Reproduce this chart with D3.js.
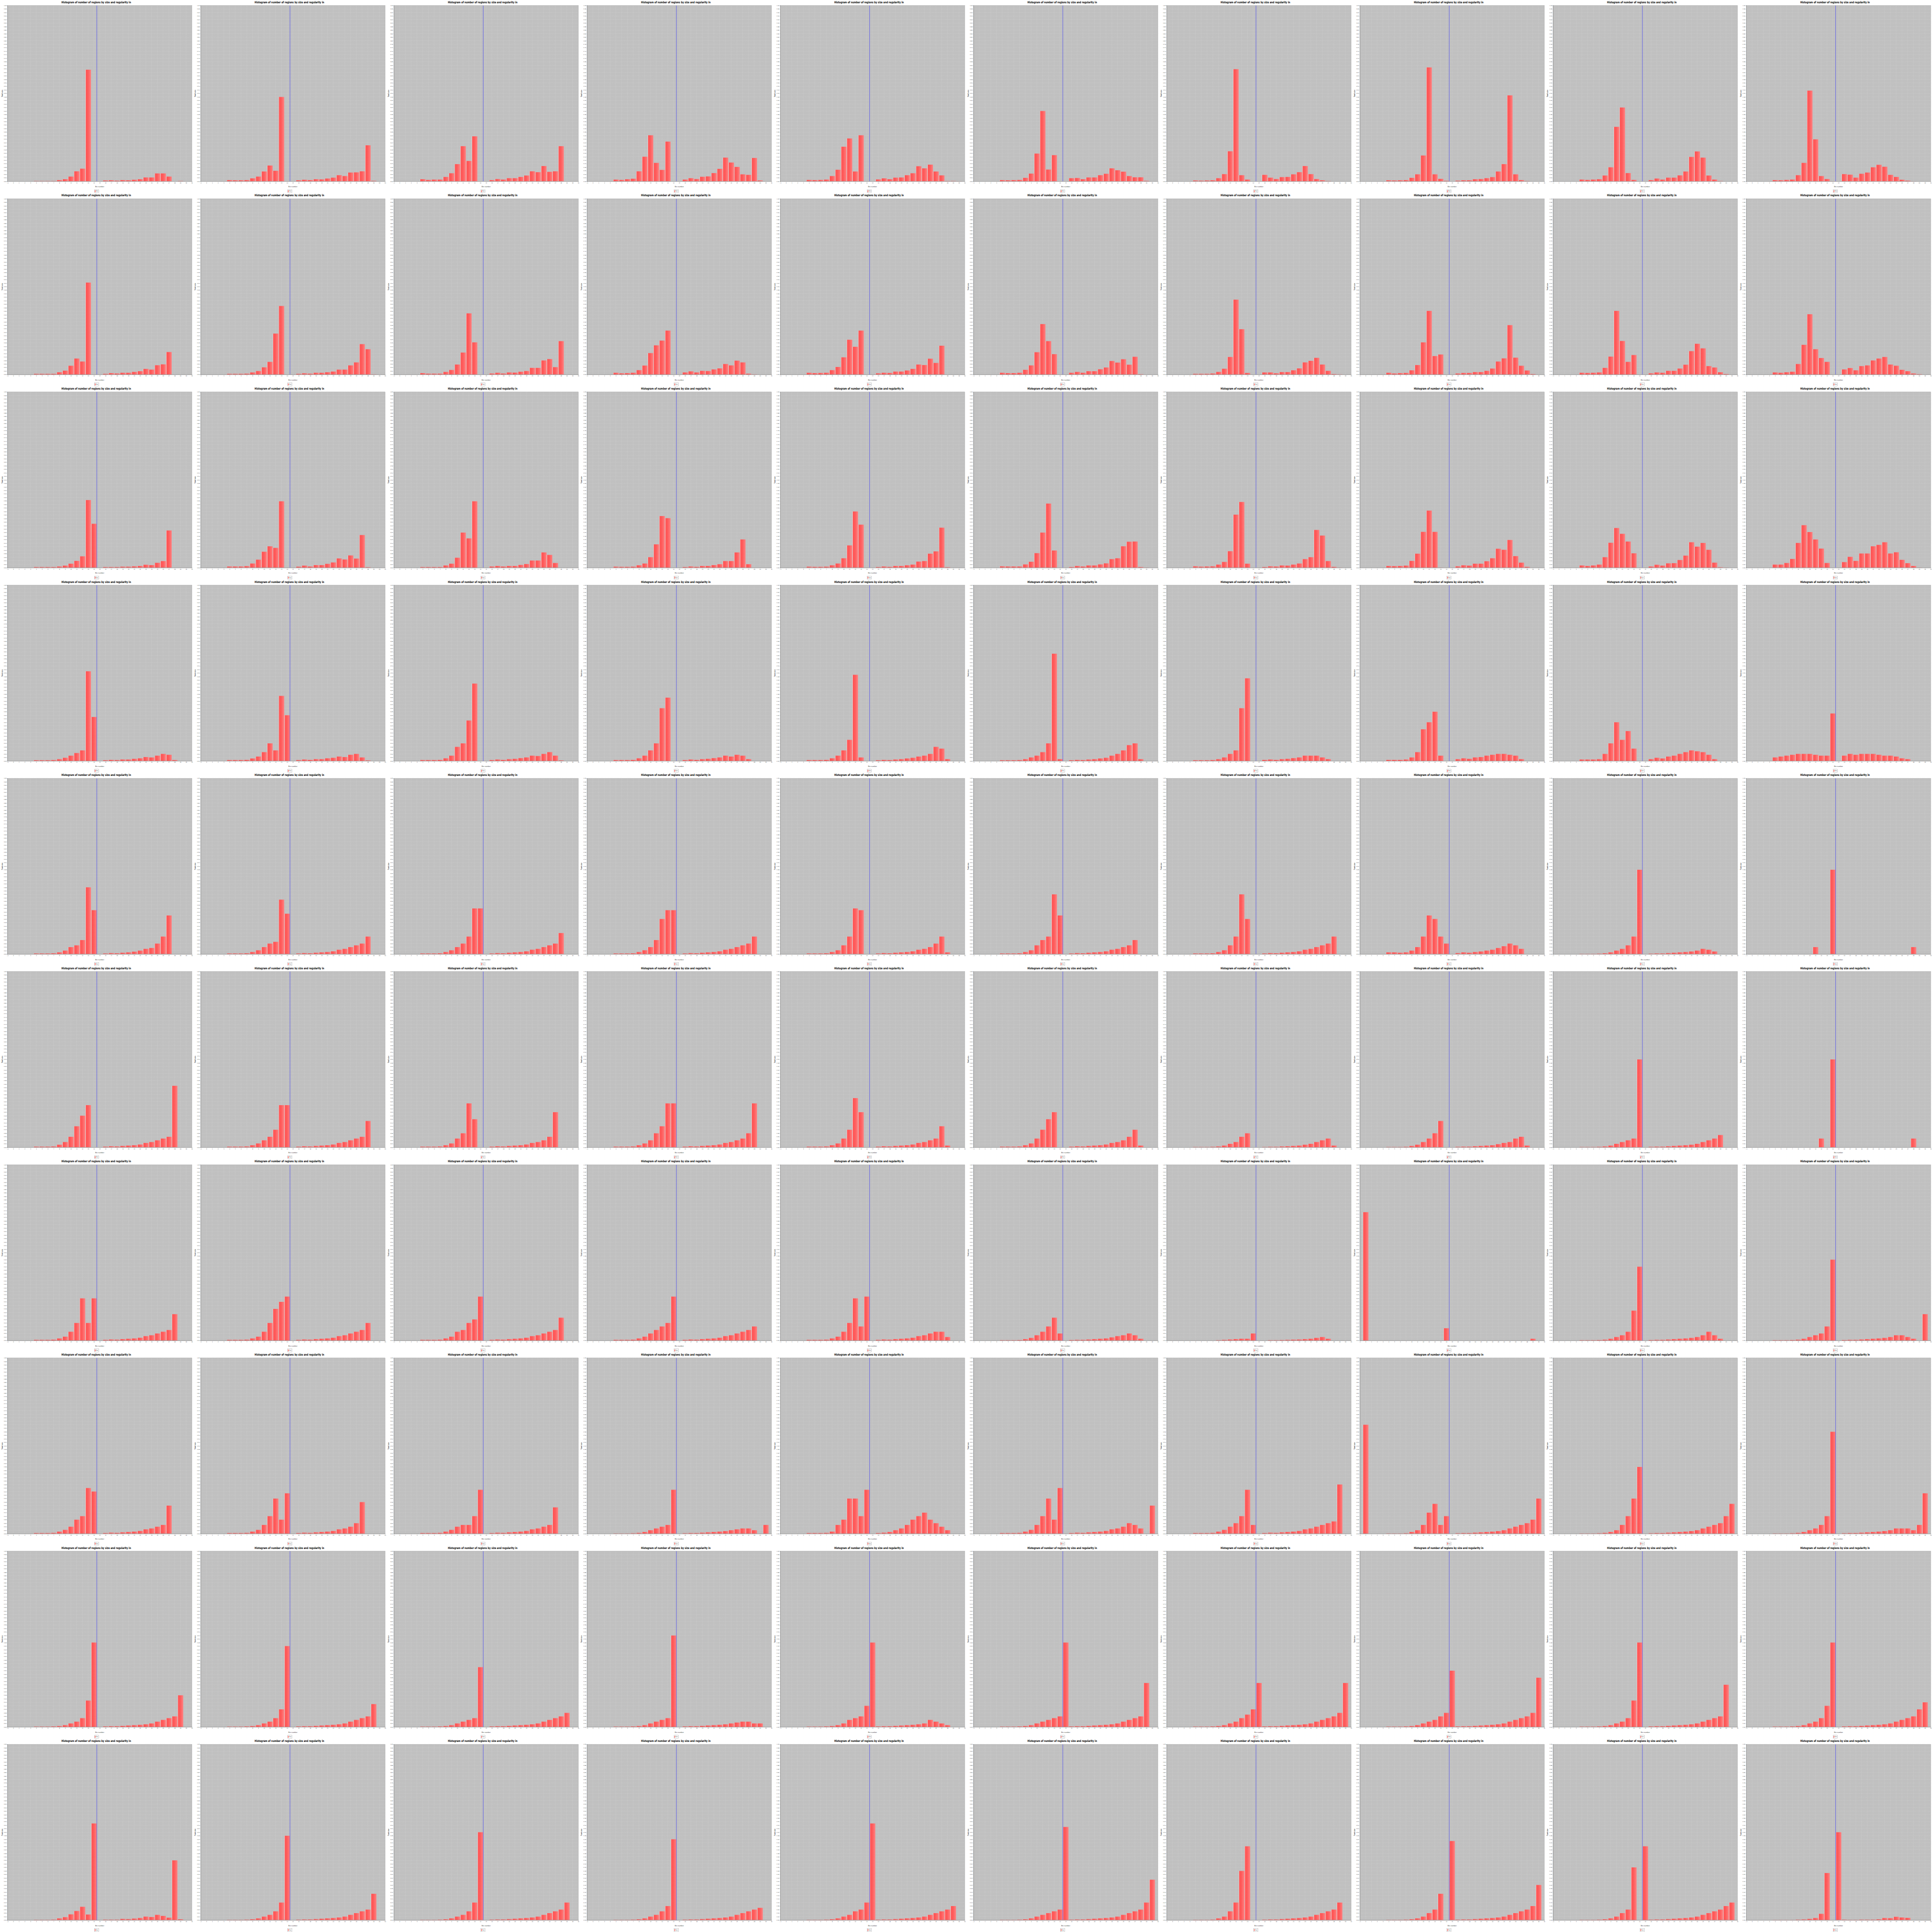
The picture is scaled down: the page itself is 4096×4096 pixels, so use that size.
<!DOCTYPE html>
<html><head><meta charset="utf-8">
<script src="https://cdn.jsdelivr.net/npm/d3@7/dist/d3.min.js"></script>
<style>html,body{margin:0;padding:0;background:#fff}</style>
</head><body>
<script>
// ---------------- data ----------------
const binNumbers = [0,1,2,3,4,5,6,7,8,9,10,11,12,13,14,15,16,17,18,19,20,21,22,23,24,25,26,27,28,29,30];
const xTickValues = [-1,0,1,2,3,4,5,6,7,8,9,10,11,12,13,14,15,16,17,18,19,20,21,22,23,24,25,26,27,28,29,30,31];
const yTickValues = [0,0.02,0.04,0.06,0.08,0.1,0.12,0.14,0.16,0.18,0.2,0.22,0.24,0.26,0.28,0.3,0.32,0.34,0.36,0.38,0.4,0.42,0.44,0.46,0.48,0.5,0.52,0.54,0.56,0.58,0.6,0.62,0.64,0.66,0.68,0.7,0.72,0.74,0.76,0.78,0.8,0.82,0.84,0.86,0.88,0.9,0.92,0.94,0.96,0.98,1.0];
const titleText = "Histogram of number of regions by size and regularity in";
const xAxisTitle = "Bin number";
const yAxisTitle = "Total size";
const legendLabel = "Size";
const thresholdBin = 14.5;

const row1 = [
[0,0,0,0,0.002,0.002,0.002,0.002,0.007,0.012,0.027,0.057,0.072,0.635,0,0,0.005,0.006,0.004,0.007,0.006,0.009,0.012,0.022,0.022,0.045,0.045,0.027,0,0.002,0],
[0,0,0,0,0.007,0.006,0.006,0.007,0.017,0.027,0.056,0.09,0.06,0.48,0,0,0.006,0.009,0.007,0.012,0.011,0.016,0.021,0.035,0.030,0.050,0.051,0.057,0.205,0.003,0],
[0,0,0,0,0.012,0.008,0.01,0.01,0.025,0.046,0.098,0.20,0.116,0.256,0,0,0.007,0.013,0.01,0.018,0.018,0.025,0.033,0.057,0.052,0.087,0.054,0.057,0.20,0,0],
[0,0,0,0,0.010,0.008,0.012,0.015,0.057,0.14,0.262,0.105,0.065,0.226,0,0,0.01,0.018,0.013,0.026,0.028,0.047,0.071,0.135,0.107,0.082,0.04,0.037,0.133,0.005,0],
[0,0,0,0,0.008,0.007,0.008,0.01,0.03,0.066,0.197,0.244,0.056,0.262,0,0,0.011,0.017,0.012,0.021,0.022,0.035,0.046,0.086,0.074,0.095,0.056,0.034,0.002,0.002,0.001],
[0,0,0,0,0.007,0.006,0.007,0.008,0.02,0.044,0.158,0.40,0.067,0.149,0,0,0.018,0.019,0.012,0.022,0.022,0.035,0.043,0.074,0.063,0.055,0.03,0.023,0.023,0.003,0],
[0,0,0,0,0.005,0.004,0.005,0.006,0.018,0.041,0.171,0.638,0.035,0.01,0,0,0.037,0.021,0.013,0.024,0.025,0.04,0.052,0.087,0.041,0.013,0.006,0.002,0,0,0],
[0,0,0,0,0.006,0.005,0.006,0.007,0.02,0.04,0.147,0.648,0.04,0.014,0.003,0,0.004,0.006,0.006,0.012,0.013,0.018,0.024,0.056,0.098,0.489,0.04,0.007,0.002,0,0],
[0,0,0,0,0.01,0.008,0.01,0.012,0.033,0.08,0.31,0.42,0.047,0.008,0,0,0.007,0.016,0.01,0.021,0.021,0.034,0.056,0.139,0.17,0.135,0.033,0.01,0.002,0,0],
[0,0,0,0,0.007,0.006,0.008,0.01,0.035,0.105,0.516,0.239,0.03,0.013,0.001,0,0.041,0.038,0.021,0.043,0.05,0.08,0.094,0.083,0.037,0.025,0.009,0.004,0.001,0,0]
];
const row2 = [
[0,0,0,0,0.004,0.004,0.004,0.004,0.013,0.022,0.05,0.091,0.074,0.523,0,0,0.004,0.008,0.006,0.01,0.01,0.015,0.019,0.032,0.028,0.053,0.058,0.128,0,0,0],
[0,0,0,0,0.004,0.004,0.004,0.005,0.012,0.02,0.041,0.072,0.233,0.39,0,0,0.004,0.007,0.005,0.01,0.01,0.013,0.017,0.028,0.028,0.052,0.069,0.173,0.144,0.001,0],
[0,0,0,0,0.008,0.005,0.005,0.005,0.015,0.026,0.057,0.125,0.348,0.183,0,0,0.006,0.01,0.006,0.012,0.011,0.016,0.02,0.038,0.038,0.08,0.088,0.042,0.19,0,0],
[0,0,0,0,0.01,0.007,0.008,0.01,0.025,0.051,0.122,0.166,0.193,0.25,0,0,0.012,0.018,0.012,0.021,0.02,0.029,0.035,0.06,0.052,0.079,0.069,0.005,0.001,0,0],
[0,0,0,0,0.01,0.008,0.009,0.01,0.025,0.043,0.098,0.198,0.158,0.25,0,0,0.007,0.01,0.009,0.017,0.017,0.023,0.032,0.057,0.054,0.09,0.066,0.164,0,0,0],
[0,0,0,0,0.01,0.008,0.008,0.01,0.027,0.052,0.127,0.287,0.19,0.116,0,0,0.01,0.015,0.01,0.019,0.019,0.03,0.04,0.077,0.068,0.087,0.056,0.101,0.002,0,0],
[0,0,0,0,0.004,0.004,0.004,0.006,0.015,0.033,0.1,0.426,0.258,0.009,0,0,0.012,0.012,0.007,0.014,0.014,0.024,0.035,0.069,0.078,0.095,0.057,0.021,0.003,0.001,0],
[0,0,0,0,0.01,0.006,0.008,0.009,0.024,0.054,0.183,0.362,0.105,0.114,0,0,0.006,0.009,0.009,0.014,0.014,0.021,0.034,0.074,0.092,0.281,0.096,0.05,0.023,0.003,0],
[0,0,0,0,0.01,0.009,0.01,0.012,0.038,0.102,0.362,0.191,0.072,0.111,0,0,0.007,0.012,0.01,0.021,0.021,0.034,0.056,0.133,0.175,0.149,0.048,0.04,0.013,0.003,0],
[0,0,0,0,0.012,0.01,0.013,0.016,0.06,0.169,0.343,0.144,0.094,0.072,0,0,0.029,0.037,0.024,0.048,0.052,0.08,0.091,0.1,0.057,0.05,0.027,0.019,0.006,0.002,0]
];
const row3 = [
[0,0,0,0,0.004,0.004,0.004,0.004,0.007,0.012,0.023,0.039,0.065,0.385,0.25,0,0.004,0.004,0.004,0.006,0.006,0.008,0.01,0.017,0.015,0.028,0.038,0.212,0,0,0],
[0,0,0,0,0.007,0.007,0.007,0.009,0.024,0.046,0.091,0.122,0.113,0.378,0,0,0.006,0.012,0.007,0.015,0.015,0.022,0.03,0.053,0.047,0.07,0.052,0.186,0.003,0,0],
[0,0,0,0,0.004,0.004,0.004,0.004,0.013,0.023,0.057,0.2,0.167,0.378,0,0,0.007,0.01,0.007,0.01,0.01,0.016,0.021,0.041,0.041,0.087,0.073,0.027,0,0,0],
[0,0,0,0,0.006,0.005,0.005,0.006,0.014,0.024,0.06,0.133,0.294,0.282,0,0,0.004,0.007,0.005,0.01,0.01,0.015,0.02,0.038,0.038,0.087,0.161,0.02,0,0,0],
[0,0,0,0,0.006,0.005,0.005,0.006,0.014,0.024,0.054,0.127,0.32,0.245,0,0,0.004,0.007,0.005,0.01,0.01,0.014,0.018,0.035,0.038,0.08,0.093,0.228,0.003,0,0],
[0,0,0,0,0.008,0.007,0.007,0.007,0.019,0.034,0.083,0.2,0.365,0.098,0,0,0.004,0.01,0.007,0.013,0.013,0.019,0.025,0.049,0.054,0.122,0.148,0.149,0.004,0.001,0],
[0,0,0,0,0.008,0.006,0.007,0.008,0.018,0.033,0.094,0.302,0.374,0.023,0,0,0.004,0.008,0.007,0.013,0.012,0.018,0.024,0.049,0.06,0.215,0.183,0.038,0.005,0.001,0],
[0,0,0,0,0.01,0.009,0.01,0.012,0.039,0.08,0.204,0.325,0.204,0.001,0,0,0.008,0.014,0.012,0.023,0.023,0.037,0.054,0.108,0.102,0.158,0.066,0.029,0.005,0,0],
[0,0,0,0,0.013,0.01,0.013,0.018,0.06,0.142,0.226,0.193,0.149,0.082,0,0,0.007,0.017,0.012,0.025,0.026,0.044,0.069,0.145,0.12,0.141,0.102,0.029,0.003,0.001,0],
[0,0,0,0,0.018,0.018,0.027,0.05,0.141,0.242,0.203,0.161,0.109,0.027,0,0,0.032,0.062,0.039,0.081,0.081,0.122,0.13,0.145,0.081,0.088,0.045,0.026,0.01,0.001,0]
];
const row4 = [
[0,0,0,0,0.004,0.004,0.004,0.005,0.01,0.018,0.03,0.045,0.06,0.51,0.25,0,0.004,0.006,0.005,0.008,0.008,0.012,0.015,0.022,0.02,0.03,0.04,0.035,0.005,0,0],
[0,0,0,0,0.005,0.005,0.005,0.006,0.014,0.025,0.05,0.1,0.06,0.37,0.26,0,0.005,0.008,0.006,0.01,0.01,0.015,0.018,0.025,0.022,0.035,0.04,0.02,0.003,0,0],
[0,0,0,0,0.005,0.005,0.005,0.006,0.015,0.03,0.08,0.1,0.23,0.44,0,0,0.005,0.008,0.006,0.01,0.012,0.016,0.02,0.03,0.028,0.04,0.05,0.03,0.003,0,0],
[0,0,0,0,0.005,0.005,0.005,0.006,0.015,0.03,0.06,0.1,0.3,0.36,0,0,0.005,0.008,0.006,0.01,0.012,0.016,0.02,0.03,0.025,0.035,0.03,0.01,0,0,0],
[0,0,0,0,0.005,0.005,0.005,0.006,0.015,0.03,0.06,0.12,0.49,0.02,0,0,0.004,0.006,0.005,0.008,0.01,0.014,0.018,0.025,0.03,0.04,0.08,0.07,0.01,0,0],
[0,0,0,0,0.004,0.004,0.004,0.005,0.01,0.02,0.03,0.05,0.1,0.61,0.01,0,0.004,0.006,0.005,0.008,0.01,0.014,0.018,0.03,0.04,0.06,0.09,0.1,0.01,0,0],
[0,0,0,0,0.004,0.004,0.004,0.005,0.01,0.02,0.04,0.06,0.3,0.47,0,0,0.006,0.008,0.006,0.01,0.012,0.016,0.02,0.03,0.03,0.03,0.02,0.01,0,0,0],
[0,0,0,0,0.006,0.006,0.006,0.008,0.02,0.05,0.18,0.22,0.28,0.03,0,0,0.01,0.015,0.012,0.02,0.022,0.03,0.035,0.04,0.04,0.035,0.03,0.01,0,0,0],
[0,0,0,0,0.008,0.008,0.008,0.01,0.04,0.1,0.22,0.12,0.17,0.07,0,0,0.01,0.018,0.014,0.025,0.03,0.04,0.05,0.06,0.055,0.05,0.035,0.01,0,0,0],
[0,0,0,0,0.02,0.025,0.03,0.035,0.04,0.04,0.04,0.035,0.03,0.03,0.27,0,0.03,0.04,0.035,0.04,0.04,0.04,0.035,0.03,0.03,0.025,0.015,0.01,0,0,0]
];
const row5 = [
[0,0,0,0,0.004,0.004,0.004,0.005,0.01,0.02,0.04,0.05,0.08,0.38,0.25,0,0.004,0.006,0.005,0.008,0.01,0.014,0.02,0.03,0.035,0.06,0.1,0.22,0,0,0],
[0,0,0,0,0.004,0.004,0.004,0.005,0.012,0.022,0.04,0.06,0.07,0.31,0.23,0,0.004,0.006,0.005,0.008,0.01,0.012,0.016,0.025,0.03,0.04,0.05,0.06,0.1,0,0],
[0,0,0,0,0.004,0.004,0.004,0.005,0.012,0.022,0.04,0.06,0.1,0.26,0.26,0,0.004,0.006,0.005,0.008,0.01,0.012,0.016,0.025,0.03,0.04,0.05,0.06,0.12,0,0],
[0,0,0,0,0.004,0.004,0.004,0.005,0.012,0.022,0.04,0.08,0.2,0.25,0.25,0,0.004,0.006,0.005,0.008,0.01,0.012,0.016,0.025,0.03,0.04,0.05,0.06,0.1,0,0],
[0,0,0,0,0.004,0.004,0.004,0.005,0.012,0.022,0.05,0.1,0.26,0.25,0,0,0.004,0.006,0.005,0.008,0.01,0.012,0.016,0.025,0.03,0.04,0.06,0.1,0.01,0,0],
[0,0,0,0,0.004,0.004,0.004,0.005,0.012,0.022,0.05,0.08,0.1,0.34,0.22,0,0.004,0.006,0.005,0.008,0.01,0.012,0.016,0.025,0.03,0.04,0.05,0.08,0,0,0],
[0,0,0,0,0.004,0.004,0.004,0.005,0.012,0.022,0.05,0.1,0.34,0.2,0,0,0.004,0.006,0.005,0.008,0.01,0.012,0.016,0.025,0.03,0.04,0.05,0.06,0.1,0,0],
[0,0,0,0,0.01,0.01,0.008,0.01,0.02,0.04,0.1,0.22,0.2,0.1,0.06,0,0.006,0.01,0.008,0.012,0.015,0.02,0.025,0.035,0.045,0.06,0.05,0.03,0,0,0],
[0,0,0,0,0.002,0.002,0.002,0.003,0.005,0.01,0.02,0.03,0.05,0.1,0.48,0,0.003,0.004,0.004,0.006,0.008,0.01,0.012,0.015,0.02,0.03,0.025,0.015,0,0,0],
[0,0,0,0,0,0,0,0,0,0,0,0.04,0,0,0.48,0,0,0,0,0,0,0,0,0,0,0,0,0,0.04,0,0]
];
const row6 = [
[0,0,0,0,0.004,0.004,0.004,0.005,0.015,0.03,0.06,0.12,0.18,0.24,0,0,0.004,0.006,0.005,0.008,0.01,0.012,0.016,0.025,0.03,0.04,0.05,0.06,0.35,0,0],
[0,0,0,0,0.004,0.004,0.004,0.005,0.012,0.022,0.04,0.06,0.1,0.24,0.24,0,0.004,0.006,0.005,0.008,0.01,0.012,0.016,0.025,0.03,0.04,0.05,0.06,0.15,0,0],
[0,0,0,0,0.004,0.004,0.004,0.005,0.012,0.022,0.05,0.08,0.25,0.16,0,0,0.004,0.006,0.005,0.008,0.01,0.012,0.016,0.025,0.03,0.04,0.06,0.2,0,0,0],
[0,0,0,0,0.004,0.004,0.004,0.005,0.012,0.022,0.04,0.08,0.12,0.25,0.25,0,0.004,0.006,0.005,0.008,0.01,0.012,0.016,0.025,0.03,0.04,0.05,0.08,0.25,0,0],
[0,0,0,0,0.004,0.004,0.004,0.005,0.012,0.022,0.05,0.1,0.28,0.2,0,0,0.004,0.006,0.005,0.008,0.01,0.012,0.016,0.025,0.03,0.04,0.05,0.12,0.01,0,0],
[0,0,0,0,0.004,0.004,0.004,0.005,0.012,0.022,0.05,0.1,0.16,0.2,0,0,0.004,0.006,0.005,0.008,0.01,0.012,0.016,0.025,0.03,0.04,0.06,0.1,0.01,0,0],
[0,0,0,0,0.002,0.002,0.002,0.003,0.005,0.01,0.02,0.03,0.06,0.08,0,0,0.002,0.003,0.003,0.005,0.006,0.008,0.01,0.015,0.02,0.03,0.04,0.05,0.01,0,0],
[0,0,0,0,0.002,0.002,0.002,0.003,0.008,0.015,0.03,0.05,0.08,0.15,0,0,0.003,0.004,0.004,0.006,0.008,0.01,0.012,0.018,0.025,0.03,0.05,0.06,0.01,0,0],
[0,0,0,0,0.002,0.002,0.002,0.003,0.005,0.01,0.02,0.03,0.04,0.05,0.5,0,0.003,0.004,0.004,0.006,0.008,0.01,0.012,0.015,0.02,0.03,0.04,0.05,0.07,0,0],
[0,0,0,0,0,0,0,0,0,0,0,0,0.05,0,0.5,0,0,0,0,0,0,0,0,0,0,0,0,0,0.05,0,0]
];
const row7 = [
[0,0,0,0,0.004,0.004,0.004,0.005,0.012,0.022,0.05,0.1,0.24,0.1,0.24,0,0.004,0.006,0.005,0.008,0.01,0.012,0.016,0.025,0.03,0.04,0.05,0.06,0.15,0,0],
[0,0,0,0,0.004,0.004,0.004,0.005,0.012,0.022,0.05,0.1,0.18,0.22,0.25,0,0.004,0.006,0.005,0.008,0.01,0.012,0.016,0.025,0.03,0.04,0.05,0.06,0.1,0,0],
[0,0,0,0,0.004,0.004,0.004,0.005,0.012,0.022,0.05,0.06,0.1,0.12,0.25,0,0.004,0.006,0.005,0.008,0.01,0.012,0.016,0.025,0.03,0.04,0.05,0.06,0.13,0,0],
[0,0,0,0,0.004,0.004,0.004,0.005,0.012,0.022,0.04,0.06,0.08,0.1,0.25,0,0.004,0.006,0.005,0.008,0.01,0.012,0.016,0.025,0.03,0.04,0.05,0.06,0.08,0,0],
[0,0,0,0,0.004,0.004,0.004,0.005,0.012,0.022,0.05,0.1,0.24,0.08,0.25,0,0.004,0.006,0.005,0.008,0.01,0.012,0.016,0.025,0.03,0.04,0.05,0.05,0.02,0,0],
[0,0,0,0,0.002,0.002,0.002,0.003,0.008,0.015,0.03,0.05,0.08,0.13,0.04,0,0.003,0.004,0.004,0.006,0.008,0.01,0.012,0.018,0.025,0.03,0.04,0.03,0.01,0,0],
[0,0,0,0,0,0,0,0,0.002,0.004,0.006,0.008,0.01,0.01,0.04,0,0,0.002,0.002,0.003,0.004,0.005,0.006,0.008,0.01,0.015,0.02,0.01,0,0,0],
[0.73,0,0,0,0,0,0,0,0,0,0,0,0,0,0.07,0,0,0,0,0,0,0,0,0,0,0,0,0,0,0.01,0],
[0,0,0,0,0.002,0.002,0.002,0.003,0.005,0.01,0.02,0.03,0.05,0.17,0.42,0,0.003,0.004,0.004,0.006,0.008,0.01,0.012,0.015,0.02,0.03,0.05,0.03,0.01,0,0],
[0,0,0,0,0.002,0.002,0.002,0.003,0.005,0.01,0.02,0.03,0.04,0.08,0.46,0,0.003,0.004,0.004,0.006,0.008,0.01,0.012,0.015,0.02,0.03,0.03,0.02,0.01,0,0.15]
];
const row8 = [
[0,0,0,0,0.004,0.004,0.004,0.005,0.012,0.022,0.04,0.08,0.1,0.26,0.24,0,0.004,0.006,0.005,0.008,0.01,0.012,0.016,0.025,0.03,0.04,0.05,0.16,0,0,0],
[0,0,0,0,0.004,0.004,0.004,0.005,0.012,0.022,0.05,0.1,0.2,0.08,0.23,0,0.004,0.006,0.005,0.008,0.01,0.012,0.016,0.025,0.03,0.04,0.06,0.18,0,0,0],
[0,0,0,0,0.004,0.004,0.004,0.005,0.012,0.022,0.04,0.05,0.05,0.1,0.25,0,0.004,0.006,0.005,0.008,0.01,0.012,0.016,0.025,0.03,0.04,0.05,0.15,0,0,0],
[0,0,0,0,0.002,0.002,0.002,0.003,0.005,0.01,0.02,0.03,0.04,0.05,0.25,0,0.003,0.004,0.004,0.006,0.008,0.01,0.012,0.015,0.02,0.025,0.03,0.03,0.02,0,0.05],
[0,0,0,0,0.004,0.004,0.004,0.005,0.012,0.05,0.08,0.2,0.2,0.1,0.25,0,0.004,0.006,0.01,0.02,0.03,0.05,0.08,0.1,0.12,0.08,0.06,0.04,0.02,0,0],
[0,0,0,0,0.004,0.004,0.004,0.005,0.012,0.022,0.05,0.1,0.2,0.08,0.26,0,0.004,0.006,0.005,0.008,0.01,0.012,0.016,0.025,0.03,0.04,0.06,0.05,0.03,0,0.16],
[0,0,0,0,0.004,0.004,0.004,0.005,0.012,0.022,0.04,0.06,0.1,0.25,0.05,0,0.004,0.006,0.005,0.008,0.01,0.012,0.016,0.025,0.03,0.04,0.05,0.06,0.07,0.28,0],
[0.62,0,0,0,0.002,0.002,0.002,0.003,0.01,0.02,0.05,0.12,0.17,0.05,0.1,0,0.003,0.004,0.004,0.006,0.008,0.01,0.012,0.015,0.02,0.03,0.04,0.05,0.06,0.08,0.2],
[0,0,0,0,0.002,0.002,0.002,0.003,0.005,0.01,0.02,0.05,0.1,0.2,0.38,0,0.003,0.004,0.004,0.006,0.008,0.01,0.012,0.015,0.02,0.03,0.04,0.05,0.06,0.1,0.17],
[0,0,0,0,0.002,0.002,0.002,0.003,0.005,0.01,0.02,0.03,0.05,0.1,0.58,0,0.003,0.004,0.004,0.006,0.008,0.01,0.012,0.015,0.02,0.03,0.03,0.03,0.02,0.05,0.23]
];
const row9 = [
[0,0,0,0,0.002,0.002,0.002,0.003,0.005,0.01,0.02,0.03,0.05,0.15,0.48,0,0.003,0.004,0.004,0.006,0.008,0.01,0.012,0.015,0.02,0.03,0.04,0.05,0.06,0.18,0],
[0,0,0,0,0.002,0.002,0.002,0.003,0.005,0.01,0.02,0.03,0.05,0.1,0.46,0,0.003,0.004,0.004,0.006,0.008,0.01,0.012,0.015,0.02,0.03,0.04,0.05,0.06,0.13,0],
[0,0,0,0,0.002,0.002,0.002,0.003,0.005,0.01,0.02,0.03,0.04,0.05,0.34,0,0.003,0.004,0.004,0.006,0.008,0.01,0.012,0.015,0.02,0.03,0.04,0.05,0.06,0.08,0],
[0,0,0,0,0.002,0.002,0.002,0.003,0.005,0.01,0.02,0.03,0.04,0.05,0.52,0,0.003,0.004,0.004,0.006,0.008,0.01,0.012,0.015,0.02,0.025,0.03,0.03,0.02,0.02,0],
[0,0,0,0,0.002,0.002,0.002,0.003,0.005,0.01,0.02,0.04,0.05,0.06,0.12,0.48,0.003,0.004,0.004,0.006,0.008,0.01,0.012,0.015,0.02,0.04,0.03,0.02,0.01,0,0],
[0,0,0,0,0.002,0.002,0.002,0.003,0.005,0.01,0.02,0.03,0.04,0.05,0.06,0.48,0.003,0.004,0.004,0.006,0.008,0.01,0.012,0.015,0.02,0.03,0.04,0.05,0.06,0.25,0],
[0,0,0,0,0.002,0.002,0.002,0.003,0.005,0.01,0.02,0.03,0.05,0.07,0.1,0.25,0.003,0.004,0.004,0.006,0.008,0.01,0.012,0.015,0.02,0.03,0.04,0.05,0.06,0.08,0.25],
[0,0,0,0,0.002,0.002,0.002,0.003,0.005,0.01,0.02,0.03,0.04,0.06,0.08,0.32,0.003,0.004,0.004,0.006,0.008,0.01,0.012,0.015,0.02,0.03,0.04,0.05,0.06,0.08,0.28],
[0,0,0,0,0.002,0.002,0.002,0.003,0.005,0.01,0.02,0.03,0.05,0.15,0.48,0,0.003,0.004,0.004,0.006,0.008,0.01,0.012,0.015,0.02,0.03,0.04,0.05,0.06,0.24,0],
[0,0,0,0,0.002,0.002,0.002,0.003,0.005,0.01,0.02,0.03,0.05,0.12,0.48,0,0.003,0.004,0.004,0.006,0.008,0.01,0.012,0.015,0.02,0.03,0.04,0.05,0.06,0.1,0.14]
];
const row10 = [
[0,0,0,0,0.002,0.002,0.002,0.003,0.01,0.017,0.033,0.052,0.076,0.032,0.55,0,0.003,0.003,0.003,0.007,0.006,0.009,0.012,0.02,0.018,0.03,0.024,0.014,0.34,0.005,0],
[0,0,0,0,0.002,0.002,0.002,0.003,0.005,0.01,0.02,0.03,0.05,0.1,0.48,0,0.003,0.004,0.004,0.006,0.008,0.01,0.012,0.015,0.02,0.03,0.04,0.05,0.06,0.15,0],
[0,0,0,0,0.002,0.002,0.002,0.003,0.005,0.01,0.02,0.03,0.05,0.1,0.5,0,0.003,0.004,0.004,0.006,0.008,0.01,0.012,0.015,0.02,0.03,0.04,0.05,0.06,0.1,0],
[0,0,0,0,0.002,0.002,0.002,0.003,0.005,0.01,0.02,0.03,0.05,0.08,0.46,0,0.003,0.004,0.004,0.006,0.008,0.01,0.012,0.015,0.02,0.03,0.04,0.05,0.06,0.07,0],
[0,0,0,0,0.002,0.002,0.002,0.003,0.005,0.01,0.02,0.03,0.05,0.06,0.1,0.55,0.003,0.004,0.004,0.006,0.008,0.01,0.012,0.015,0.02,0.03,0.04,0.05,0.06,0.08,0],
[0,0,0,0,0.002,0.002,0.002,0.003,0.005,0.01,0.02,0.03,0.04,0.05,0.06,0.53,0.003,0.004,0.004,0.006,0.008,0.01,0.012,0.015,0.02,0.03,0.04,0.05,0.06,0.1,0.23],
[0,0,0,0,0.002,0.002,0.002,0.003,0.01,0.02,0.05,0.1,0.28,0.42,0,0,0.003,0.004,0.004,0.006,0.008,0.01,0.012,0.015,0.02,0.03,0.04,0.05,0.06,0.1,0],
[0,0,0,0,0.002,0.002,0.002,0.003,0.005,0.01,0.02,0.04,0.06,0.15,0,0.45,0.003,0.004,0.004,0.006,0.008,0.01,0.012,0.015,0.02,0.03,0.04,0.05,0.06,0.08,0.2],
[0,0,0,0,0.002,0.002,0.002,0.003,0.005,0.01,0.02,0.04,0.06,0.3,0,0.42,0.003,0.004,0.004,0.006,0.008,0.01,0.012,0.015,0.02,0.03,0.04,0.05,0.06,0.08,0.1],
[0,0,0,0,0.001,0.001,0.001,0.001,0.003,0.004,0.007,0.012,0.036,0.268,0,0.5,0.003,0.002,0.002,0.003,0.003,0.003,0.005,0.012,0.011,0.019,0.015,0.013,0,0,0]
];
const rows = [row1,row2,row3,row4,row5,row6,row7,row8,row9,row10];

// ---------------- drawing ----------------
const W = 4096, REF = 5000, K = W/REF, CELL = 500;
const svg = d3.select("body").append("svg")
  .attr("width", W).attr("height", W)
  .attr("viewBox", `0 0 ${W} ${W}`);
svg.append("rect").attr("width", W).attr("height", W).attr("fill", "#fff");
const defs = svg.append("defs");
const grad = defs.append("linearGradient").attr("id","barGrad")
  .attr("x1","0").attr("x2","1").attr("y1","0").attr("y2","0");
grad.append("stop").attr("offset","0").attr("stop-color","#ffe6e6");
grad.append("stop").attr("offset","0.08").attr("stop-color","#ff5555");
grad.append("stop").attr("offset","0.45").attr("stop-color","#ff5b5b");
grad.append("stop").attr("offset","1").attr("stop-color","#ff8181");

const root = svg.append("g").attr("transform", `scale(${K})`);

const plotL = 19.3, plotR = 496.7, plotT = 14.3, plotB = 469.3;
const x = d3.scaleLinear().domain([-1, 31]).range([plotL, plotR]);
const y = d3.scaleLinear().domain([0, 1]).range([plotB, plotT]);
const fmt = d3.format(".2f");
const FONT = "'Liberation Sans','DejaVu Sans',Arial,sans-serif";
const NARROW = "'Liberation Sans Narrow','DejaVu Sans Condensed','Liberation Sans',sans-serif";

rows.forEach((row, ri) => {
  row.forEach((vals, ci) => {
    const g = root.append("g").attr("transform", `translate(${ci*CELL},${ri*CELL})`);
    g.append("text").attr("x", 249).attr("y", 8.4)
      .attr("text-anchor","middle").attr("font-family", NARROW)
      .attr("font-weight","bold").attr("font-size", 7.6).attr("fill","#000")
      .attr("textLength", 180).attr("lengthAdjust","spacingAndGlyphs")
      .text(titleText);
    g.append("rect").attr("x", plotL).attr("y", plotT)
      .attr("width", plotR-plotL).attr("height", plotB-plotT)
      .attr("fill", "#c0c0c0");
    g.append("g").selectAll("line").data(xTickValues).join("line")
      .attr("x1", d=>x(d)).attr("x2", d=>x(d)).attr("y1", plotT).attr("y2", plotB)
      .attr("stroke","#e2e2e2").attr("stroke-width",0.45).attr("stroke-dasharray","1.2,1.2");
    g.append("g").selectAll("line").data(yTickValues).join("line")
      .attr("x1", plotL).attr("x2", plotR).attr("y1", d=>y(d)).attr("y2", d=>y(d))
      .attr("stroke","#e2e2e2").attr("stroke-width",0.45).attr("stroke-dasharray","1.2,1.2");
    g.append("g").selectAll("rect").data(binNumbers.filter(b => vals[b] > 0)).join("rect")
      .attr("x", b => x(b - 0.46))
      .attr("width", b => x(b + 0.49) - x(b - 0.46))
      .attr("y", b => y(vals[b]))
      .attr("height", b => y(0) - y(vals[b]))
      .attr("fill", "url(#barGrad)");
    g.append("line").attr("x1", x(thresholdBin)).attr("x2", x(thresholdBin))
      .attr("y1", plotT).attr("y2", plotB)
      .attr("stroke", "#4b4bf0").attr("stroke-width", 1);
    g.append("rect").attr("x", plotL).attr("y", plotT)
      .attr("width", plotR-plotL).attr("height", plotB-plotT)
      .attr("fill","none").attr("stroke","#9a9a9a").attr("stroke-width",0.6);
    const ya = g.append("g").attr("transform", `translate(${plotL},0)`)
      .call(d3.axisLeft(y).tickValues(yTickValues).tickFormat(fmt).tickSize(1.5).tickPadding(1));
    ya.select(".domain").attr("stroke","#888").attr("stroke-width",0.8);
    ya.selectAll(".tick line").attr("stroke","#888").attr("stroke-width",0.4);
    ya.selectAll(".tick text").attr("font-size",3.4).attr("font-family",NARROW).attr("fill","#555");
    const xa = g.append("g").attr("transform", `translate(0,${plotB})`)
      .call(d3.axisBottom(x).tickValues(xTickValues).tickSize(1.5).tickPadding(1.2));
    xa.select(".domain").attr("stroke","#888").attr("stroke-width",0.9);
    xa.selectAll(".tick line").attr("stroke","#888").attr("stroke-width",0.4);
    xa.selectAll(".tick text").attr("font-size",3.4).attr("font-family",NARROW).attr("fill","#555");
    g.append("text").attr("x", (plotL+plotR)/2).attr("y", 485)
      .attr("text-anchor","middle").attr("font-family",FONT).attr("font-size",4.6).attr("fill","#444")
      .text(xAxisTitle);
    g.append("text").attr("transform", `translate(6.8,${(plotT+plotB)/2}) rotate(-90)`)
      .attr("text-anchor","middle").attr("font-family",FONT).attr("font-weight","bold")
      .attr("font-size",4.2).attr("fill","#444").text(yAxisTitle);
    const lg = g.append("g");
    lg.append("rect").attr("x",244.4).attr("y",490.8).attr("width",11.2).attr("height",8.2)
      .attr("fill","#fff").attr("stroke","#888").attr("stroke-width",0.5);
    lg.append("rect").attr("x",245.4).attr("y",492.6).attr("width",1.6).attr("height",4.6)
      .attr("fill","#ff5555");
    lg.append("text").attr("x",247.8).attr("y",496.2).attr("font-family",FONT)
      .attr("font-size",3.2).attr("fill","#555").text(legendLabel);
  });
});
</script>
</body></html>
